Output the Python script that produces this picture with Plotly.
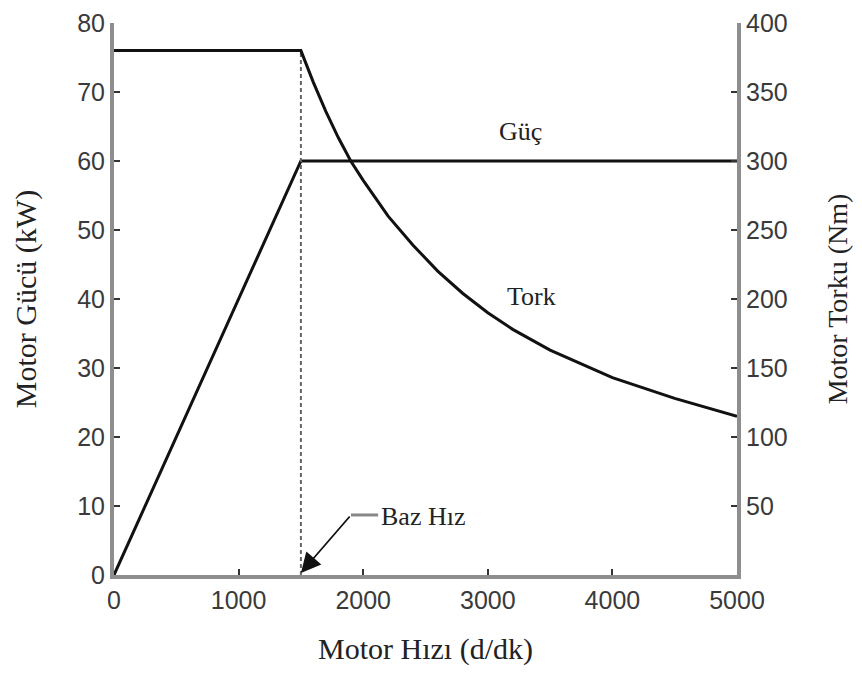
import plotly.graph_objects as go

# Data
speed_power = [0, 1500, 5000]              # d/dk
power_kw = [0, 60, 60]                     # kW

speed_torque = [0, 1500, 1600, 1700, 1800, 1900, 2000, 2200, 2400, 2600, 2800,
                3000, 3200, 3500, 4000, 4500, 5000]
torque_nm = [380, 380, 357, 336, 317, 300, 286, 260, 239, 220, 204,
             190, 178, 163, 143, 128, 115]

base_speed = 1500
base_torque = 380

x_ticks = [0, 1000, 2000, 3000, 4000, 5000]
y1_ticks = [0, 10, 20, 30, 40, 50, 60, 70, 80]
y2_ticks = [50, 100, 150, 200, 250, 300, 350, 400]

serif = "Liberation Serif, Times New Roman, serif"
sans = "Liberation Sans, Arial, sans-serif"
axis_gray = "#8e8e8e"
tick_font = dict(family=sans, size=25, color="#3a3a3a")
title_font = dict(family=serif, size=30, color="#222222")
label_font = dict(family=serif, size=26, color="#222222")

fig = go.Figure()

fig.add_trace(go.Scatter(
    x=[base_speed, base_speed], y=[0, base_torque], yaxis="y2", mode="lines",
    line=dict(color="#666666", width=2, dash="4px,3px"), showlegend=False, hoverinfo="skip"))

fig.add_trace(go.Scatter(
    x=speed_power, y=power_kw, mode="lines", name="Güç",
    line=dict(color="#111111", width=3), showlegend=False))

fig.add_trace(go.Scatter(
    x=speed_torque, y=torque_nm, yaxis="y2", mode="lines", name="Tork",
    line=dict(color="#111111", width=3), showlegend=False))

fig.update_layout(
    width=862, height=673,
    margin=dict(l=106, r=133, t=15, b=106),
    paper_bgcolor="white", plot_bgcolor="white",
    xaxis=dict(
        range=[0, 5000], tickvals=x_ticks, ticks="inside", ticklen=6, tickwidth=2,
        tickcolor="#333333", showline=True, linecolor=axis_gray, linewidth=4,
        showgrid=False, zeroline=False, tickfont=tick_font, ticklabeloverflow="allow",
        automargin=False,
        title=dict(text="Motor Hızı (d/dk)", font=title_font, standoff=26),
    ),
    yaxis=dict(
        range=[0, 80], tickvals=y1_ticks, ticks="inside", ticklen=6, tickwidth=2,
        tickcolor="#333333", showline=True, linecolor=axis_gray, linewidth=4,
        showgrid=False, zeroline=False, tickfont=tick_font, ticklabeloverflow="allow",
        automargin=False,
        title=dict(text="Motor Gücü (kW)", font=title_font, standoff=33),
    ),
    yaxis2=dict(
        range=[0, 400], tickvals=y2_ticks, overlaying="y", side="right",
        ticks="inside", ticklen=6, tickwidth=2, tickcolor="#333333",
        showline=True, linecolor=axis_gray, linewidth=4,
        showgrid=False, zeroline=False, tickfont=tick_font, ticklabeloverflow="allow",
        automargin=False,
        title=dict(text="Motor Torku (Nm)", font=dict(family=serif, size=28, color="#222222"),
                   standoff=42),
    ),
)

fig.add_annotation(x=3266, y=64.3, text="Güç", showarrow=False, font=label_font)
fig.add_annotation(x=3350, y=40.3, text="Tork", showarrow=False, font=label_font)

# Baz Hız label with arrow
fig.add_shape(type="line", x0=1902, x1=2120, y0=8.7, y1=8.7, xref="x", yref="y",
              line=dict(color="#888888", width=3))
fig.add_annotation(x=2127, y=8.5, text="Baz Hız", showarrow=False, xanchor="left",
                   font=label_font)
fig.add_annotation(x=base_speed, y=0.3, ax=1902, ay=8.7, axref="x", ayref="y",
                   text="", showarrow=True, arrowhead=2, arrowsize=2.2, arrowwidth=1.8,
                   arrowcolor="#111111")

fig.write_html("out.html")
